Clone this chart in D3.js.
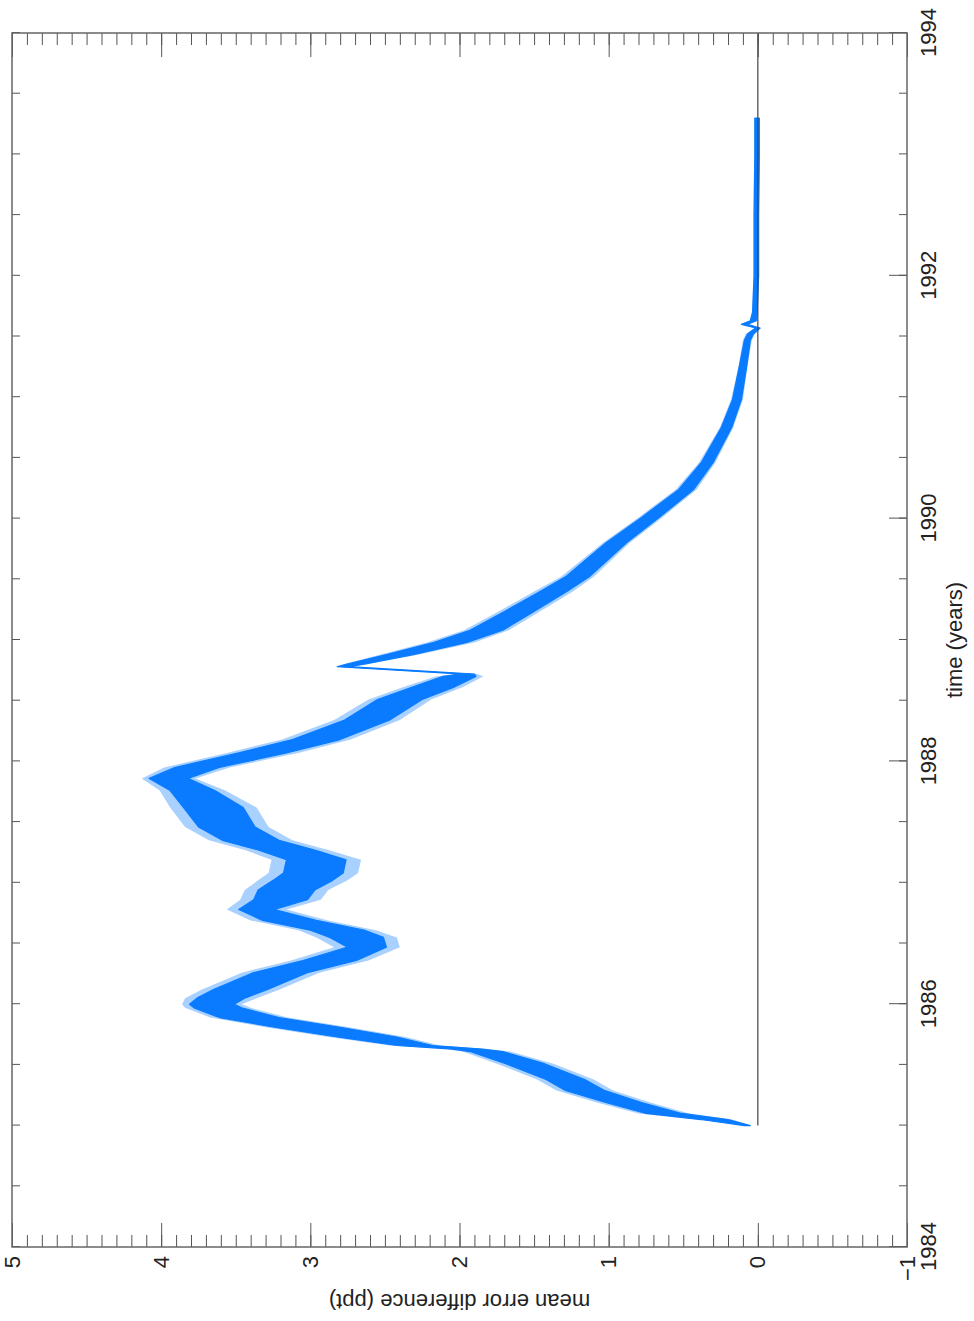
<!DOCTYPE html>
<html>
<head>
	<meta charset="utf-8">
	<title>mean error difference</title>
	<style type="text/css">
		html, body {
			margin: 0;
			padding: 0;
			background-color: #fff;
		}
		svg text {
			font-family: "Liberation Sans", Arial, Helvetica, sans-serif;
			fill: #222;
		}
	</style>
</head>
<body>
	<div id="chart"></div>
	<script src="https://unpkg.com/d3@7.0.1/dist/d3.min.js"></script>
	<script type="text/javascript">
		// values: time (years), band centre, core half-width and spike reach (ppt)
		const times = [
			1985.00, 1985.05, 1985.10, 1985.19, 1985.29, 1985.38, 1985.51, 1985.61, 1985.63, 1985.66,
			1985.73, 1985.81, 1985.89, 1985.97, 1986.00, 1986.05, 1986.12, 1986.26, 1986.36, 1986.47,
			1986.55, 1986.61, 1986.69, 1986.78, 1986.86, 1986.94, 1987.02, 1987.08, 1987.19, 1987.27,
			1987.35, 1987.46, 1987.62, 1987.76, 1987.86, 1987.95, 1988.07, 1988.18, 1988.34, 1988.51,
			1988.61, 1988.70, 1988.72, 1988.78, 1988.80, 1988.88, 1988.98, 1989.08, 1989.22, 1989.40,
			1989.52, 1989.80, 1990.01, 1990.24, 1990.46, 1990.75, 1990.98, 1991.25, 1991.47, 1991.52,
			1991.57, 1991.60, 1991.63, 1991.70, 1992.00, 1992.50, 1993.00, 1993.30
		];
		const meanDiff = [
			0.07, 0.29, 0.63, 0.90, 1.16, 1.29, 1.56, 1.82, 1.95, 2.30,
			2.62, 3.02, 3.41, 3.62, 3.66, 3.60, 3.47, 3.20, 2.87, 2.62,
			2.69, 2.82, 3.14, 3.36, 3.20, 3.16, 3.05, 2.98, 2.96, 3.16,
			3.40, 3.56, 3.65, 3.79, 3.95, 3.76, 3.32, 2.96, 2.62, 2.40,
			2.18, 2.00, 1.95, 2.78, 2.70, 2.40, 2.06, 1.82, 1.62, 1.37,
			1.21, 0.95, 0.72, 0.48, 0.34, 0.21, 0.14, 0.10, 0.07, 0.05,
			0.00, 0.09, 0.03, 0.02, 0.01, 0.01, 0.005, 0.005
		];
		const spread = [
			0.02, 0.09, 0.12, 0.12, 0.13, 0.13, 0.13, 0.11, 0.10, 0.12,
			0.20, 0.22, 0.20, 0.16, 0.15, 0.16, 0.18, 0.18, 0.18, 0.13,
			0.18, 0.18, 0.18, 0.12, 0.18, 0.19, 0.20, 0.20, 0.20, 0.19,
			0.19, 0.19, 0.20, 0.15, 0.13, 0.15, 0.16, 0.16, 0.15, 0.15,
			0.14, 0.11, 0.05, 0.04, 0.06, 0.09, 0.11, 0.11, 0.10, 0.09,
			0.08, 0.07, 0.06, 0.05, 0.04, 0.035, 0.03, 0.025, 0.02, 0.02,
			0.015, 0.02, 0.02, 0.015, 0.015, 0.015, 0.015, 0.015
		];
		const spikeReach = [
			0.02, 0.12, 0.17, 0.18, 0.19, 0.19, 0.19, 0.16, 0.14, 0.17,
			0.26, 0.28, 0.26, 0.22, 0.20, 0.24, 0.26, 0.26, 0.26, 0.22,
			0.27, 0.26, 0.26, 0.20, 0.27, 0.28, 0.30, 0.30, 0.30, 0.28,
			0.28, 0.28, 0.29, 0.22, 0.18, 0.22, 0.24, 0.23, 0.22, 0.21,
			0.20, 0.16, 0.07, 0.05, 0.08, 0.13, 0.16, 0.15, 0.14, 0.13,
			0.11, 0.09, 0.08, 0.07, 0.055, 0.045, 0.04, 0.03, 0.03, 0.03,
			0.02, 0.025, 0.025, 0.02, 0.02, 0.02, 0.02, 0.02
		];
		const yearLabels = [1984, 1986, 1988, 1990, 1992, 1994];
		const valueLabels = [5, 4, 3, 2, 1, 0, -1];
		const zeroLine = [1985, 1994];

		const data = times.map((t, i) => ({ t: t, v: meanDiff[i], s: spread[i], r: spikeReach[i] }));

		const W = 974, H = 1321;
		// the chart is drawn in its own frame (time across, value up) and turned a quarter turn
		const plotW = 1214, plotH = 895;
		const blue = '#0a7bff';

		const svg = d3.select('#chart')
			.append('svg')
			.attr('width', W)
			.attr('height', H);

		svg.append('rect').attr('width', W).attr('height', H).attr('fill', '#fff');

		const g = svg.append('g')
			.attr('transform', 'translate(12,1247) rotate(-90)');

		const x = d3.scaleLinear().domain([1984, 1994]).range([0, plotW]);
		const y = d3.scaleLinear().domain([-1, 5]).range([plotH, 0]);

		// light outer band where the spikes reach
		const outer = d3.area()
			.x(d => x(d.t))
			.y0(d => y(d.v - d.r))
			.y1(d => y(d.v + d.r));

		g.append('path')
			.datum(data)
			.attr('d', outer)
			.attr('fill', blue)
			.attr('fill-opacity', 0.35);

		// solid core of the noisy series
		const band = d3.area()
			.x(d => x(d.t))
			.y0(d => y(d.v - d.s))
			.y1(d => y(d.v + d.s));

		g.append('path')
			.datum(data)
			.attr('d', band)
			.attr('fill', blue)
			.attr('stroke', blue)
			.attr('stroke-width', 1.2)
			.attr('stroke-linejoin', 'round');

		// zero line
		g.append('line')
			.attr('x1', x(zeroLine[0]))
			.attr('x2', x(zeroLine[1]))
			.attr('y1', y(0))
			.attr('y2', y(0))
			.attr('stroke', '#444')
			.attr('stroke-width', 1.2);

		function styleAxis(sel) {
			sel.select('.domain').remove();
			sel.selectAll('line').attr('stroke', '#555').attr('stroke-width', 1);
			sel.selectAll('text')
				.style('font-size', '22px')
				.attr('fill', '#222');
		}

		const halfYears = d3.range(1984, 1994.01, 0.5);
		const tenths = d3.range(-1, 5.001, 0.1).map(d => Math.round(d * 10) / 10);

		// time axis (screen right side)
		g.append('g')
			.attr('transform', `translate(0,${plotH})`)
			.call(d3.axisBottom(x).tickValues(halfYears).tickSize(-8).tickFormat(''))
			.call(styleAxis);
		g.append('g')
			.attr('transform', `translate(0,${plotH})`)
			.call(d3.axisBottom(x).tickValues(yearLabels).tickSize(-18).tickPadding(13).tickFormat(d3.format('d')))
			.call(styleAxis);

		// time axis (screen left side)
		g.append('g')
			.call(d3.axisTop(x).tickValues(halfYears).tickSize(-8).tickFormat(''))
			.call(styleAxis);

		// value axis (screen bottom)
		g.append('g')
			.call(d3.axisLeft(y).tickValues(tenths).tickSize(-12).tickFormat(''))
			.call(styleAxis);
		g.append('g')
			.call(d3.axisLeft(y).tickValues(valueLabels).tickSize(-24).tickPadding(9).tickFormat(d3.format('d')))
			.call(styleAxis);

		// value axis (screen top)
		g.append('g')
			.attr('transform', `translate(${plotW},0)`)
			.call(d3.axisRight(y).tickValues(tenths).tickSize(-12).tickFormat(''))
			.call(styleAxis);
		g.append('g')
			.attr('transform', `translate(${plotW},0)`)
			.call(d3.axisRight(y).tickValues(valueLabels).tickSize(-24).tickFormat(''))
			.call(styleAxis);

		// frame
		g.append('rect')
			.attr('width', plotW)
			.attr('height', plotH)
			.attr('fill', 'none')
			.attr('stroke', '#666')
			.attr('stroke-width', 1.5);

		// axis titles
		g.append('text')
			.attr('x', plotW / 2)
			.attr('y', plotH + 55)
			.attr('text-anchor', 'middle')
			.style('font-size', '22px')
			.text('time (years)');

		g.append('text')
			.attr('transform', `translate(-47,${plotH / 2}) rotate(-90)`)
			.attr('text-anchor', 'middle')
			.style('font-size', '22px')
			.text('mean error difference (ppt)');
	</script>
</body>
</html>
